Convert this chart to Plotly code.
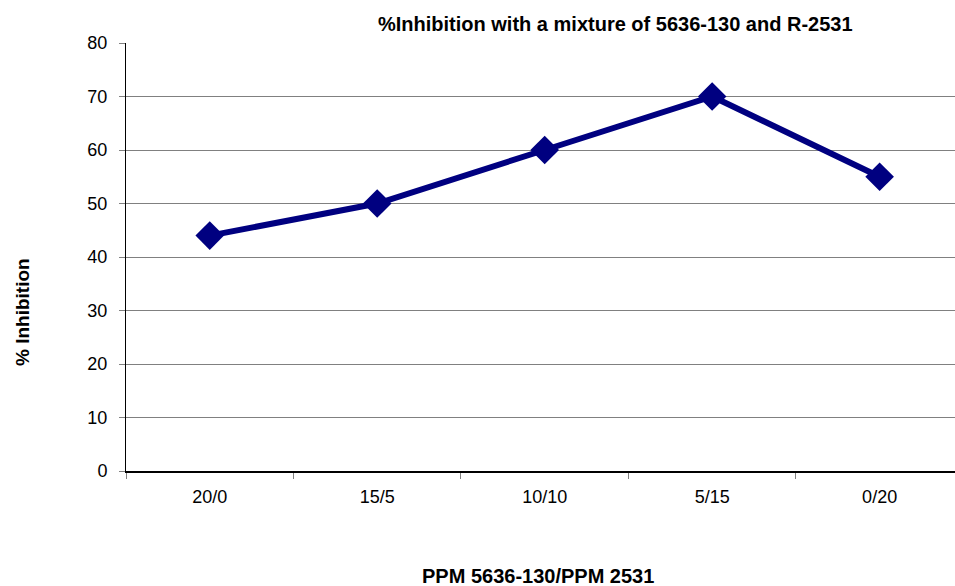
import plotly.graph_objects as go

categories = ["20/0", "15/5", "10/10", "5/15", "0/20"]
inhibition = [44, 50, 60, 70, 55]
y_ticks = [0, 10, 20, 30, 40, 50, 60, 70, 80]

FONT = "Liberation Sans, Arial, sans-serif"

fig = go.Figure()
fig.add_trace(go.Scatter(
    x=categories,
    y=inhibition,
    mode="lines+markers",
    line=dict(color="#000080", width=6),
    marker=dict(symbol="diamond", size=22, color="#000080"),
    showlegend=False,
))

fig.update_layout(
    width=955,
    height=586,
    margin=dict(l=126, r=0, t=43, b=115),
    paper_bgcolor="white",
    plot_bgcolor="white",
    font=dict(family=FONT, size=18, color="black"),
    xaxis=dict(
        type="category",
        range=[-0.5, 4.45],
        showgrid=False,
        showline=True,
        linecolor="black",
        linewidth=2,
        ticks="outside",
        tickson="boundaries",
        ticklen=6,
        tickcolor="#808080",
        tickfont=dict(family=FONT, size=18),
        ticklabelstandoff=8,
        zeroline=False,
    ),
    yaxis=dict(
        range=[0, 80],
        tickvals=y_ticks,
        showgrid=True,
        gridcolor="#808080",
        gridwidth=1,
        showline=True,
        linecolor="black",
        linewidth=1,
        ticks="outside",
        ticklen=6,
        tickcolor="#808080",
        tickfont=dict(family=FONT, size=18),
        ticklabelstandoff=8,
        zeroline=False,
    ),
    annotations=[
        dict(text="<b>%Inhibition with a mixture of 5636-130 and R-2531</b>",
             xref="paper", yref="paper", x=(615 - 126) / 829, y=1,
             yshift=19, xanchor="center", yanchor="middle", showarrow=False,
             font=dict(family=FONT, size=20)),
        dict(text="<b>% Inhibition</b>",
             xref="paper", yref="paper", x=0, xshift=-104, y=(471 - 312) / 428,
             textangle=-90, xanchor="center", yanchor="middle", showarrow=False,
             font=dict(family=FONT, size=19)),
        dict(text="<b>PPM 5636-130/PPM 2531</b>",
             xref="paper", yref="paper", x=(538 - 126) / 829, y=0,
             yshift=-105, xanchor="center", yanchor="middle", showarrow=False,
             font=dict(family=FONT, size=20)),
    ],
)

fig.write_html("out.html")
